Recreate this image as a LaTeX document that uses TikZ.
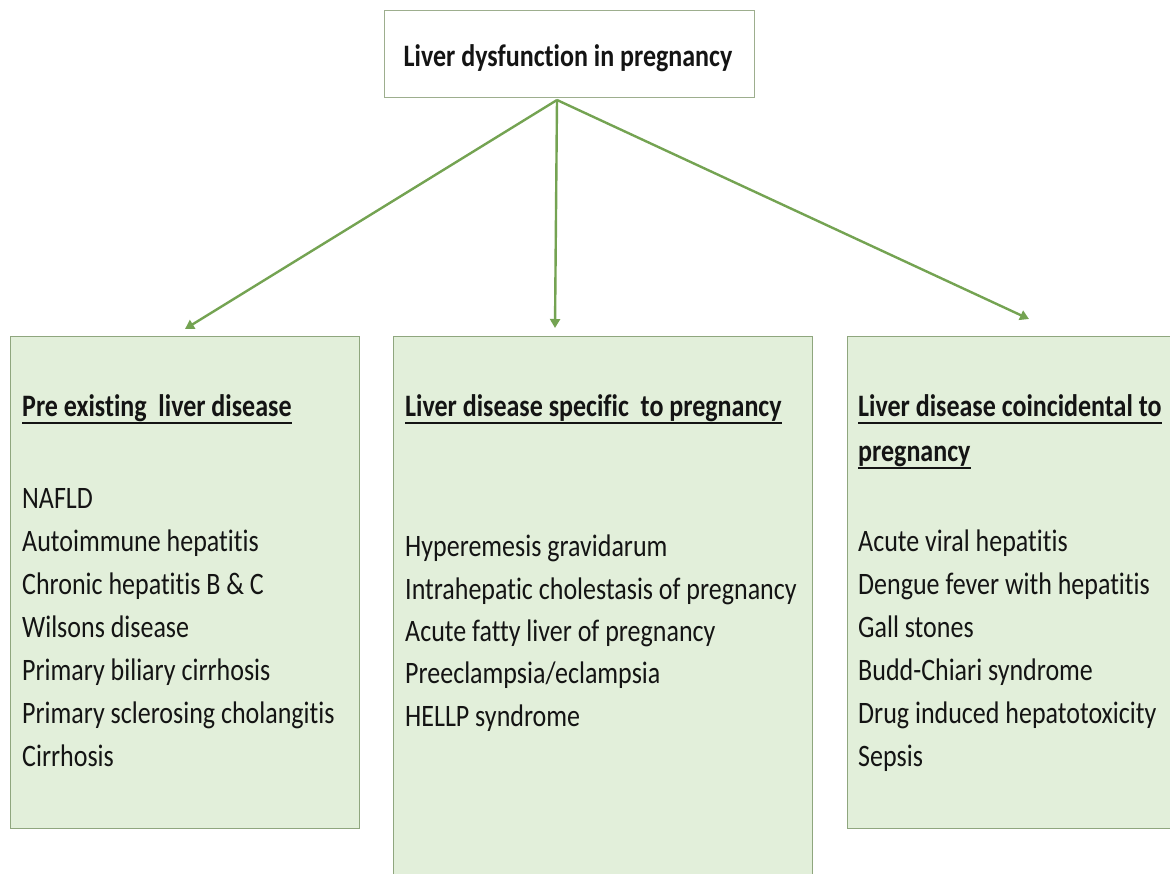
\documentclass[tikz,border=0pt]{standalone}
\usepackage{graphicx}
\usepackage{fontspec}
\setmainfont{Carlito}[Ligatures=CommonOff]
\usetikzlibrary{arrows.meta}

\definecolor{boxfill}{HTML}{E2EFDA}
\definecolor{boxline}{HTML}{8FA67E}
\definecolor{topline}{HTML}{9DAE8E}
\definecolor{linkgreen}{HTML}{74A352}
\definecolor{inktext}{HTML}{141414}

% text in this chart is set slightly taller than its natural shape
\newcommand{\tallbox}[1]{\scalebox{1}[1.2]{#1}}

\tikzset{
  panel/.style={draw=boxline, fill=boxfill, line width=1.2pt, anchor=north west, inner sep=0pt},
  titlebox/.style={draw=topline, fill=white, line width=1.2pt, anchor=north west, inner sep=0pt},
  txt/.style={font=\fontsize{26}{30}\selectfont, text=inktext, anchor=base west, inner sep=0pt},
  headtxt/.style={txt, font=\fontsize{26}{30}\selectfont\bfseries},
  uline/.style={draw=inktext, line width=2.4pt},
  link/.style={draw=linkgreen, line width=2.4pt, -{Triangle[width=10pt,length=9pt]}}
}

\begin{document}
\begin{tikzpicture}[x=1pt,y=-1pt]
\useasboundingbox (0,0) rectangle (1170,873);

% title box
\node[titlebox, minimum width=370pt, minimum height=87pt] (topbox) at (384,10) {};
\node[headtxt, anchor=base] (title) at (568,66) {\tallbox{Liver dysfunction in pregnancy}};

% the three category panels
\begin{scope}
\clip (0,0) rectangle (1170,873);
\node[panel, minimum width=349pt, minimum height=492pt] (lbox) at (10,336) {};
\node[panel, minimum width=419pt, minimum height=560pt] (mbox) at (393,336) {};
\node[panel, minimum width=340pt, minimum height=492pt] (rbox) at (847,336) {};
\end{scope}

% arrows from the title
\coordinate (src) at (557,100);
\coordinate (tipL) at (185,329);
\coordinate (tipM) at (555,328);
\coordinate (tipR) at (1029,319);
\draw[link] (src) -- (tipL);
\draw[link] (src) -- (tipM);
\draw[link] (src) -- (tipR);

% left panel
\node[headtxt] (hL) at (22,416) {\tallbox{Pre existing\ \ liver disease}};
\draw[uline] ([yshift=-7pt]hL.base west) -- ([yshift=-7pt]hL.base east);
\node[txt] (l1) at (22,508) {\tallbox{NAFLD}};
\node[txt] (l2) at (22,551) {\tallbox{Autoimmune hepatitis}};
\node[txt] (l3) at (22,594) {\tallbox{Chronic hepatitis B \& C}};
\node[txt] (l4) at (22,637) {\tallbox{Wilsons disease}};
\node[txt] (l5) at (22,680) {\tallbox{Primary biliary cirrhosis}};
\node[txt] (l6) at (22,723) {\tallbox{Primary sclerosing cholangitis}};
\node[txt] (l7) at (22,766) {\tallbox{Cirrhosis}};

% middle panel
\node[headtxt] (hM) at (405,416) {\tallbox{Liver disease specific\ \ to pregnancy}};
\draw[uline] ([yshift=-7pt]hM.base west) -- ([yshift=-7pt]hM.base east);
\node[txt] (m1) at (405,556) {\tallbox{Hyperemesis gravidarum}};
\node[txt] (m2) at (405,599) {\tallbox{Intrahepatic cholestasis of pregnancy}};
\node[txt] (m3) at (405,641) {\tallbox{Acute fatty liver of pregnancy}};
\node[txt] (m4) at (405,683) {\tallbox{Preeclampsia/eclampsia}};
\node[txt] (m5) at (405,726) {\tallbox{HELLP syndrome}};

% right panel
\node[headtxt] (hR1) at (858,416) {\tallbox{Liver disease coincidental to}};
\draw[uline] ([yshift=-7pt]hR1.base west) -- ([yshift=-7pt]hR1.base east);
\node[headtxt] (hR2) at (858,461) {\tallbox{pregnancy}};
\draw[uline] ([yshift=-7pt]hR2.base west) -- ([yshift=-7pt]hR2.base east);
\node[txt] (r1) at (858,551) {\tallbox{Acute viral hepatitis}};
\node[txt] (r2) at (858,594) {\tallbox{Dengue fever with hepatitis}};
\node[txt] (r3) at (858,637) {\tallbox{Gall stones}};
\node[txt] (r4) at (858,680) {\tallbox{Budd-Chiari syndrome}};
\node[txt] (r5) at (858,723) {\tallbox{Drug induced hepatotoxicity}};
\node[txt] (r6) at (858,766) {\tallbox{Sepsis}};
\end{tikzpicture}
\end{document}
